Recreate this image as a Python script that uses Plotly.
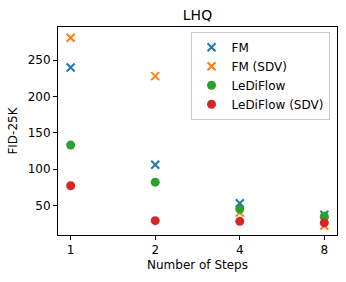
import plotly.graph_objects as go

steps = [1, 2, 4, 8]
fm = [240, 106, 53, 37]
fm_sdv = [281, 228, 40, 22]
ledi = [133, 82, 45, 35]
ledi_sdv = [77, 29, 28, 26]

FONT = "DejaVu Sans"
fig = go.Figure()
series = [
    ("FM", fm, "#1f77b4", "x-thin"),
    ("FM (SDV)", fm_sdv, "#ff7f0e", "x-thin"),
    ("LeDiFlow", ledi, "#2ca02c", "circle"),
    ("LeDiFlow (SDV)", ledi_sdv, "#d62728", "circle"),
]
for name, vals, col, sym in series:
    if sym == "x-thin":
        marker = dict(symbol=sym, size=8, color=col, line=dict(color=col, width=2))
    else:
        marker = dict(symbol=sym, size=9, color=col, line=dict(width=0))
    fig.add_trace(go.Scatter(x=steps, y=vals, mode="markers", name=name, marker=marker))

fig.update_layout(
    width=346, height=282,
    margin=dict(l=58, r=9, t=27, b=47),
    paper_bgcolor="white", plot_bgcolor="white",
    font=dict(family=FONT, size=12, color="black"),
    title=dict(text="LHQ", x=0.5, xref="paper", xanchor="center", y=0.945, yanchor="middle",
               font=dict(size=14, family=FONT)),
    showlegend=True,
    legend=dict(x=0.475, y=0.977, xanchor="left", yanchor="top",
                bordercolor="#cccccc", borderwidth=1, bgcolor="rgba(255,255,255,0.8)",
                font=dict(size=12, family=FONT), tracegroupgap=0, itemwidth=30),
)
fig.update_xaxes(
    type="log", range=[-0.15 * 0.30103, 3.15 * 0.30103],
    tickvals=steps, ticktext=[str(s) for s in steps],
    ticks="outside", ticklen=4, tickcolor="black",
    showline=True, linecolor="black", linewidth=1, mirror=True,
    showgrid=False, zeroline=False,
    title=dict(text="Number of Steps", standoff=4, font=dict(size=12)),
)
fig.update_yaxes(
    range=[9.2, 295.7], tickvals=[50, 100, 150, 200, 250],
    ticks="outside", ticklen=4, tickcolor="black",
    showline=True, linecolor="black", linewidth=1, mirror=True,
    showgrid=False, zeroline=False,
    title=dict(text="FID-25K", standoff=7, font=dict(size=12)),
)
fig.write_html("out.html", config={"displayModeBar": False},
               post_script="document.body.style.margin='0';document.body.style.padding='0';")
